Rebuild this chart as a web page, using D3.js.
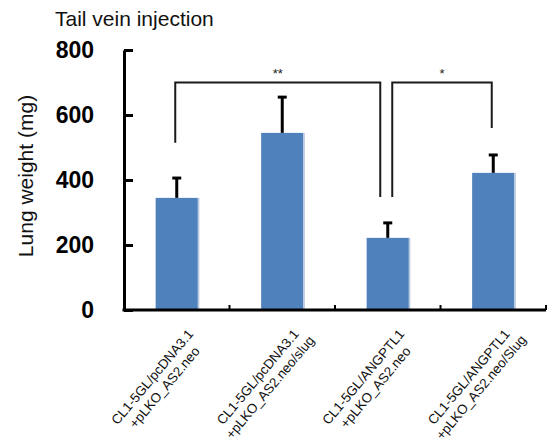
<!DOCTYPE html>
<html>
<head>
<meta charset="utf-8">
<script src="https://cdn.jsdelivr.net/npm/d3@7/dist/d3.min.js"></script>
<style>
  html, body { margin: 0; padding: 0; background: #fff; }
  svg { display: block; }
</style>
</head>
<body>
<svg id="chart" width="553" height="443"></svg>
<script>
// Group names, split into two lines each
const categories = [
  ["CL1-5GL/pcDNA3.1", "+pLKO_AS2.neo"],
  ["CL1-5GL/pcDNA3.1", "+pLKO_AS2.neo/slug"],
  ["CL1-5GL/ANGPTL1", "+pLKO_AS2.neo"],
  ["CL1-5GL/ANGPTL1", "+pLKO_AS2.neo/Slug"]
];
// Mean lung weight (mg) and error (mg)
const means = [345, 545, 222, 422];
const errors = [61, 110, 46, 55];
// Y axis ticks
const yTicks = [0, 200, 400, 600, 800];
// Significance brackets: groups compared, bracket top and leg ends (mg), label
const sigFrom = [0, 2];
const sigTo = [2, 3];
const sigTop = [700, 700];
const sigLeftEnd = [515, 348];
const sigRightEnd = [348, 560];
const sigLabels = ["**", "*"];

const svg = d3.select("#chart");
const font = "'Liberation Sans', Arial, sans-serif";

const x = d3.scaleBand()
  .domain(d3.range(categories.length))
  .range([124, 546])
  .paddingInner(0.6)
  .paddingOuter(0.3);

const y = d3.scaleLinear().domain([0, 800]).range([310, 50]);

const cx = i => x(i) + x.bandwidth() / 2;

// Title
svg.append("text")
  .attr("x", 55).attr("y", 26)
  .attr("font-family", font).attr("font-size", 21)
  .attr("fill", "#111")
  .text("Tail vein injection");

// Y axis title
svg.append("text")
  .attr("transform", "translate(33,176) rotate(-90)")
  .attr("text-anchor", "middle")
  .attr("font-family", font).attr("font-size", 21)
  .attr("fill", "#111")
  .text("Lung weight (mg)");

// Bars
svg.append("g").selectAll("rect")
  .data(means)
  .join("rect")
  .attr("x", (d, i) => x(i))
  .attr("width", x.bandwidth())
  .attr("y", d => y(d))
  .attr("height", d => y(0) - y(d))
  .attr("fill", "#4f81bd");

// Subtle right-edge shading on bars
svg.append("g").selectAll("rect")
  .data(means)
  .join("rect")
  .attr("x", (d, i) => x(i) + x.bandwidth())
  .attr("width", 1.5)
  .attr("y", d => y(d))
  .attr("height", d => y(0) - y(d))
  .attr("fill", "#b9c9df");

// Error bars (upper only)
const eb = svg.append("g").attr("stroke", "#000").attr("stroke-width", 3);
means.forEach((m, i) => {
  eb.append("line")
    .attr("x1", cx(i)).attr("x2", cx(i))
    .attr("y1", y(m)).attr("y2", y(m + errors[i]));
  eb.append("line")
    .attr("x1", cx(i) - 4.5).attr("x2", cx(i) + 4.5)
    .attr("y1", y(m + errors[i])).attr("y2", y(m + errors[i]));
});

// Significance brackets
const br = svg.append("g");
sigFrom.forEach((a, k) => {
  const b = sigTo[k];
  // legs that land on a shared group are pulled apart
  const xl = cx(a) - 1.5 + (sigTo.includes(a) ? 6 : 0);
  const xr = cx(b) - 1.5 + (sigFrom.includes(b) ? -6 : 0);
  br.append("path")
    .attr("d", `M${xl},${y(sigLeftEnd[k])}V${y(sigTop[k])}H${xr}V${y(sigRightEnd[k])}`)
    .attr("fill", "none")
    .attr("stroke", "#1a1a1a")
    .attr("stroke-width", 2);
  br.append("text")
    .attr("x", (xl + xr) / 2)
    .attr("y", y(sigTop[k]) - 5)
    .attr("text-anchor", "middle")
    .attr("font-family", font).attr("font-size", 13)
    .attr("fill", "#222")
    .text(sigLabels[k]);
});

// Y axis with inward ticks
const yAxis = svg.append("g")
  .attr("transform", "translate(124,0)")
  .call(d3.axisLeft(y).tickValues(yTicks).tickSizeInner(-9).tickSizeOuter(0).tickPadding(30));
yAxis.select(".domain").attr("stroke", "#000").attr("stroke-width", 3);
yAxis.selectAll(".tick line").attr("stroke", "#000").attr("stroke-width", 3);
yAxis.selectAll(".tick text")
  .attr("font-family", font).attr("font-size", 23).attr("font-weight", "bold")
  .attr("fill", "#000");

// X axis line
const xAxis = svg.append("g")
  .attr("transform", `translate(0,${y(0)})`)
  .call(d3.axisBottom(x).tickValues([]).tickSizeOuter(0));
xAxis.select(".domain").attr("stroke", "#000").attr("stroke-width", 3)
  .attr("d", `M${x.range()[0] - 1.5},0H${x.range()[1]}`);

// Small inward ticks between groups
svg.append("g").selectAll("line")
  .data(d3.range(categories.length))
  .join("line")
  .attr("x1", i => x(i) + x.bandwidth() + x.step() * x.paddingInner() / 2)
  .attr("x2", i => x(i) + x.bandwidth() + x.step() * x.paddingInner() / 2)
  .attr("y1", y(0)).attr("y2", y(0) - 5)
  .attr("stroke", "#000").attr("stroke-width", 2);

// Rotated two-line category labels, each line centred
const lab = svg.append("g");
categories.forEach((lines, i) => {
  const t = lab.append("text")
    .attr("transform", `translate(${cx(i) - 21},380) rotate(-50)`)
    .attr("text-anchor", "middle")
    .attr("font-family", font).attr("font-size", 13.4)
    .attr("fill", "#111");
  lines.forEach((s, j) => {
    t.append("tspan").attr("x", 0).attr("y", j * 16).text(s);
  });
});
</script>
</body>
</html>
